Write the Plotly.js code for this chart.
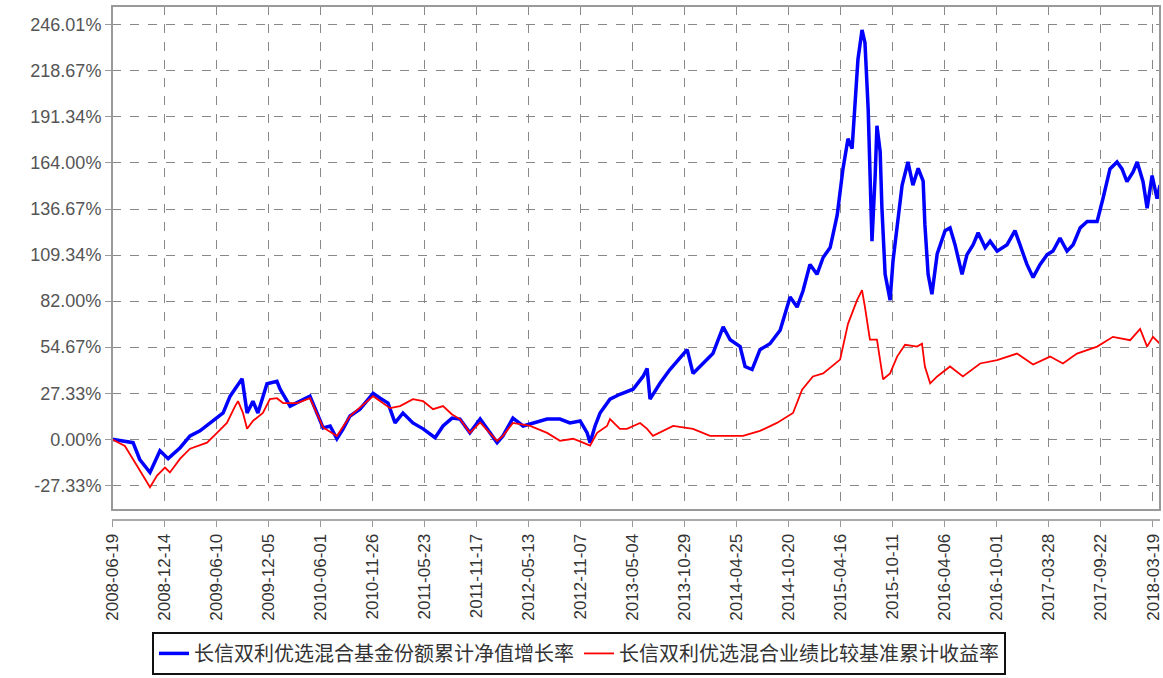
<!DOCTYPE html>
<html>
<head>
<meta charset="utf-8">
<script src="https://cdn.plot.ly/plotly-3.0.1.min.js"></script>
<style>
  html, body { margin: 0; padding: 0; background: #ffffff; }
  #chart { width: 1163px; height: 678px; }
</style>
</head>
<body>
<div id="chart"></div>
<script>
// ---- data ----
const fundName = "长信双利优选混合基金份额累计净值增长率";
const benchName = "长信双利优选混合业绩比较基准累计收益率";

const fundDates = ["2008-06-19","2008-07-23","2008-08-30","2008-09-22","2008-10-27","2008-11-30","2008-12-28","2009-02-07","2009-03-13","2009-04-16","2009-05-20","2009-07-04","2009-07-28","2009-08-21","2009-09-07","2009-09-24","2009-10-14","2009-10-31","2009-12-01","2010-01-04","2010-01-15","2010-02-18","2010-03-24","2010-04-27","2010-05-21","2010-06-11","2010-07-05","2010-07-28","2010-08-18","2010-09-11","2010-10-15","2010-11-29","2010-12-23","2011-01-19","2011-02-12","2011-03-11","2011-04-14","2011-05-19","2011-06-29","2011-07-26","2011-08-26","2011-09-22","2011-10-26","2011-11-30","2012-01-03","2012-01-27","2012-02-16","2012-03-21","2012-04-25","2012-05-29","2012-07-16","2012-08-29","2012-10-02","2012-11-06","2012-11-30","2012-12-10","2012-12-27","2013-01-13","2013-02-16","2013-03-22","2013-05-06","2013-06-09","2013-06-23","2013-07-03","2013-08-06","2013-09-09","2013-11-07","2013-11-27","2013-12-31","2014-02-03","2014-03-10","2014-04-03","2014-05-07","2014-05-24","2014-06-17","2014-07-14","2014-08-17","2014-09-21","2014-10-25","2014-11-18","2014-12-08","2015-01-01","2015-01-25","2015-02-15","2015-03-11","2015-04-04","2015-04-24","2015-05-11","2015-05-25","2015-06-04","2015-06-14","2015-06-28","2015-07-08","2015-07-19","2015-07-25","2015-08-01","2015-08-12","2015-08-18","2015-08-29","2015-09-04","2015-09-15","2015-10-02","2015-10-12","2015-10-26","2015-11-12","2015-12-02","2015-12-19","2016-01-06","2016-01-23","2016-01-29","2016-02-09","2016-02-22","2016-03-11","2016-04-07","2016-04-24","2016-05-11","2016-06-04","2016-06-21","2016-07-12","2016-07-29","2016-08-22","2016-09-08","2016-10-02","2016-11-05","2016-12-02","2016-12-19","2017-01-12","2017-02-02","2017-02-26","2017-03-22","2017-04-11","2017-05-05","2017-05-29","2017-06-19","2017-07-13","2017-08-06","2017-09-09","2017-09-29","2017-10-23","2017-11-16","2017-12-03","2017-12-20","2018-01-10","2018-01-24","2018-02-13","2018-02-27","2018-03-16","2018-04-02","2018-04-12"];
const fundValues = [0,-1,-2,-12,-19.7,-6.8,-11.5,-5,2,5,9.7,15.6,25.6,31.4,36,15.6,22.6,15.6,33,34.4,29.7,19.7,22.6,25.6,15.6,6.8,7.9,0.3,6,13.8,17.9,27.3,24.4,21.5,9.7,15.6,9.7,6.2,0.9,7.9,12.6,12,3.8,12,3.8,-2,2,12.6,7.9,9.7,12,12,9.7,10.9,3.8,-2,7.9,15.6,23.8,26.7,29.7,37.3,42,23.8,33.2,41.4,53.2,39.1,45,50.9,66.7,59.1,55,43.2,41.4,53.2,56.7,64.7,84.4,78.5,88,103.8,97.9,107.9,113.8,133,160.8,178.4,172.5,196,225.4,243,235.4,196,156.7,117.6,156.7,186.1,170.8,137.2,97.9,82.6,106,127.4,150.8,164.6,150.8,160.8,153.2,127.4,97.9,86.1,110,123.8,125.5,115.5,97.9,109.6,115.5,122.6,113.8,117.6,111.7,115.5,123.8,115.5,103.8,96.1,103.8,109.6,111.7,119.4,111.7,115.5,125.5,129.3,129.3,142.9,160.5,164.6,160.5,152.9,158.7,164.6,152.9,137.2,156.5,142.9,150.8];

const benchDates = ["2008-06-19","2008-08-02","2008-09-12","2008-10-03","2008-10-27","2008-11-20","2008-12-17","2009-01-03","2009-02-07","2009-03-13","2009-05-10","2009-06-13","2009-07-17","2009-08-14","2009-08-24","2009-09-10","2009-09-24","2009-10-14","2009-11-17","2009-12-11","2010-01-04","2010-01-25","2010-03-14","2010-04-27","2010-05-21","2010-06-11","2010-07-28","2010-09-11","2010-11-29","2010-12-23","2011-01-26","2011-03-01","2011-04-14","2011-05-19","2011-06-22","2011-07-26","2011-08-26","2011-09-22","2011-10-26","2011-11-30","2012-01-03","2012-01-27","2012-02-16","2012-03-21","2012-05-19","2012-07-16","2012-08-29","2012-10-13","2012-11-16","2012-12-10","2013-01-03","2013-02-06","2013-02-16","2013-03-22","2013-04-15","2013-05-30","2013-06-23","2013-07-13","2013-09-20","2013-11-27","2014-01-24","2014-03-23","2014-05-17","2014-07-14","2014-09-10","2014-11-04","2014-12-05","2015-01-11","2015-02-15","2015-04-14","2015-05-11","2015-06-11","2015-06-28","2015-07-08","2015-07-25","2015-08-18","2015-09-08","2015-10-02","2015-10-26","2015-11-22","2016-01-02","2016-01-19","2016-01-29","2016-02-16","2016-03-11","2016-04-24","2016-06-07","2016-08-05","2016-10-02","2016-12-09","2017-02-02","2017-04-01","2017-05-15","2017-07-02","2017-09-09","2017-11-02","2017-12-31","2018-02-03","2018-02-27","2018-03-19","2018-04-12"];
const benchValues = [0,-4,-15.6,-21.5,-28.5,-21.5,-16.8,-19.7,-11.5,-5.6,-2,3.8,9.7,19.7,22.6,15.6,6.2,10.9,15.6,23.8,24.4,21.5,21.5,24.4,15.6,7,2,13.8,25.6,22.6,18.5,19.7,23.8,22.6,17.9,19.7,14.7,12,3.8,10,3.8,-1,2,9.7,7.9,3.8,-0.9,0.3,-2,-3.8,3.8,7.9,12,6.2,6.2,9.7,6.2,2,7.9,6.2,2,2,2,5,9.7,15.6,29.4,37.3,39.1,47.3,68.5,82.6,88.5,78.5,59.1,59.1,35.6,39.1,49.1,56.1,55,56.7,43.2,33.2,37.3,43.2,37.3,45,47,50.9,44.4,49.1,45,50.9,55,60.8,58.8,65.5,55,60.8,56.7];

const xTickDates = ["2008-06-19","2008-12-14","2009-06-10","2009-12-05","2010-06-01","2010-11-26","2011-05-23","2011-11-17","2012-05-13","2012-11-07","2013-05-04","2013-10-29","2014-04-25","2014-10-20","2015-04-16","2015-10-11","2016-04-06","2016-10-01","2017-03-28","2017-09-22","2018-03-19"];
const yTickValues = [-27.33,0,27.33,54.67,82.00,109.34,136.67,164.00,191.34,218.67,246.01];
const yTickLabels = ["-27.33%","0.00%","27.33%","54.67%","82.00%","109.34%","136.67%","164.00%","191.34%","218.67%","246.01%"];

// ---- chart ----
const traces = [
  {
    x: fundDates, y: fundValues, name: fundName,
    type: "scatter", mode: "lines",
    line: { color: "#0000ff", width: 3.5 }
  },
  {
    x: benchDates, y: benchValues, name: benchName,
    type: "scatter", mode: "lines",
    line: { color: "#ff0000", width: 1.8 }
  }
];

const plotTop = 6, plotBottomFrame = 515, axisLineY = 525, H = 678;
const areaH = axisLineY - plotTop;
const yDomLow = (axisLineY - plotBottomFrame) / areaH;

const layout = {
  width: 1163, height: 678,
  margin: { l: 112, r: 3, t: plotTop, b: H - axisLineY, pad: 0 },
  paper_bgcolor: "#ffffff",
  plot_bgcolor: "#ffffff",
  showlegend: true,
  font: { family: "Liberation Sans, Arial, sans-serif", color: "#444" },
  xaxis: {
    type: "date",
    range: ["2008-06-19", "2018-04-12"],
    anchor: "free", position: 0,
    tickvals: xTickDates, ticktext: xTickDates,
    tickangle: -90,
    tickfont: { family: "Liberation Sans, Arial, sans-serif", size: 17, color: "#333" },
    ticks: "outside", ticklen: 6, tickcolor: "#999", tickwidth: 1,
    showline: true, linecolor: "#aaa", linewidth: 2,
    showgrid: true, gridcolor: "#888", griddash: "dash", gridwidth: 1,
    zeroline: false, fixedrange: true
  },
  yaxis: {
    domain: [yDomLow, 1],
    range: [-42.03, 257.18],
    tickvals: yTickValues, ticktext: yTickLabels,
    tickfont: { family: "Liberation Sans, Arial, sans-serif", size: 18, color: "#555" },
    ticks: "outside", ticklen: 6, tickcolor: "#999", tickwidth: 1,
    showline: false,
    showgrid: true, gridcolor: "#888", griddash: "dash", gridwidth: 1,
    zeroline: false, fixedrange: true
  },
  shapes: [
    {
      type: "rect", xref: "paper", yref: "paper",
      x0: 0, x1: 1, y0: yDomLow, y1: 1,
      line: { color: "#999", width: 2 }, fillcolor: "rgba(0,0,0,0)", layer: "above"
    }
  ],
  legend: {
    orientation: "h",
    x: (152 - 112) / 1048, xanchor: "left",
    y: (axisLineY - 638) / areaH, yanchor: "top",
    bordercolor: "#111", borderwidth: 2, bgcolor: "#ffffff",
    font: { family: "Noto Sans CJK SC, sans-serif", size: 20, color: "#333" },
    itemwidth: 30
  }
};

Plotly.newPlot("chart", traces, layout, { staticPlot: true, displayModeBar: false });
</script>
</body>
</html>
